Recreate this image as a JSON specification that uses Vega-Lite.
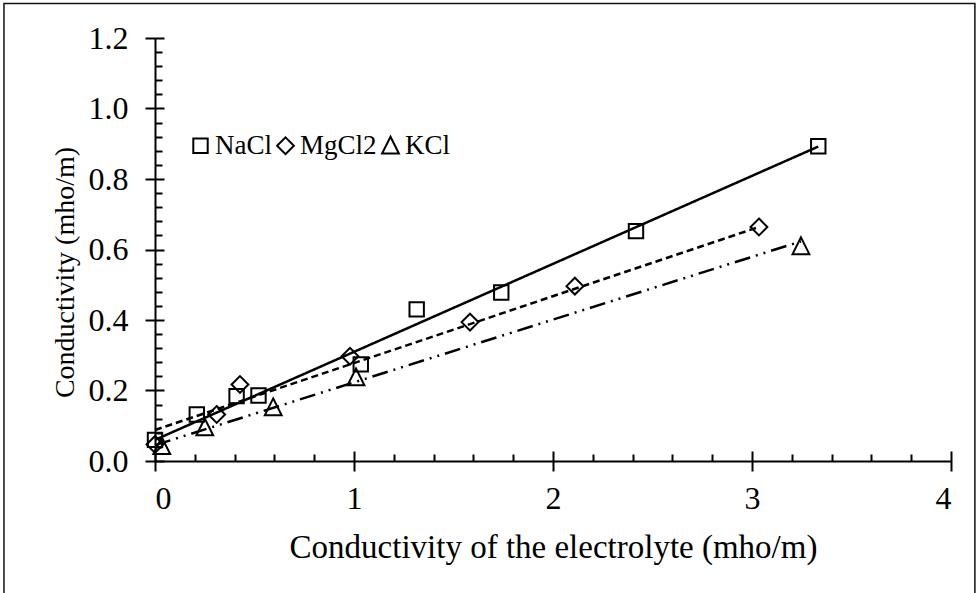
{
  "$schema": "https://vega.github.io/schema/vega-lite/v6.json",
  "width": 796,
  "height": 423,
  "autosize": {"type": "none"},
  "padding": {"left": 155, "top": 38, "right": 28, "bottom": 132},
  "background": "white",
  "config": {"view": {"stroke": null}, "font": "Liberation Serif"},
  "datasets": {
    "points": [
      {"series": "NaCl", "x": 0.0, "y": 0.06},
      {"series": "NaCl", "x": 0.21, "y": 0.132},
      {"series": "NaCl", "x": 0.41, "y": 0.184},
      {"series": "NaCl", "x": 0.52, "y": 0.186},
      {"series": "NaCl", "x": 1.034, "y": 0.274},
      {"series": "NaCl", "x": 1.315, "y": 0.43},
      {"series": "NaCl", "x": 1.74, "y": 0.478},
      {"series": "NaCl", "x": 2.417, "y": 0.652},
      {"series": "NaCl", "x": 3.333, "y": 0.893},
      {"series": "MgCl2", "x": 0.0, "y": 0.047},
      {"series": "MgCl2", "x": 0.31, "y": 0.132},
      {"series": "MgCl2", "x": 0.427, "y": 0.217},
      {"series": "MgCl2", "x": 0.98, "y": 0.297},
      {"series": "MgCl2", "x": 1.583, "y": 0.394},
      {"series": "MgCl2", "x": 2.11, "y": 0.496},
      {"series": "MgCl2", "x": 3.035, "y": 0.664},
      {"series": "KCl", "x": 0.034, "y": 0.042},
      {"series": "KCl", "x": 0.25, "y": 0.095},
      {"series": "KCl", "x": 0.594, "y": 0.152},
      {"series": "KCl", "x": 1.01, "y": 0.237},
      {"series": "KCl", "x": 3.246, "y": 0.609}
    ],
    "trends": [
      {"line": "NaCl trend", "x": 0.0, "y": 0.06},
      {"line": "NaCl trend", "x": 3.333, "y": 0.892},
      {"line": "MgCl2 trend", "x": 0.0, "y": 0.088},
      {"line": "MgCl2 trend", "x": 3.035, "y": 0.664},
      {"line": "KCl trend", "x": 0.0, "y": 0.045},
      {"line": "KCl trend", "x": 3.246, "y": 0.623}
    ],
    "frame": [{"x": -0.759, "x2": 4.12, "y": 1.298, "y2": -0.5}]
  },
  "resolve": {"axis": {"x": "independent", "y": "independent"}},
  "layer": [
    {
      "data": {"name": "frame"},
      "mark": {"type": "rect", "fill": null, "stroke": "#111", "strokeWidth": 1.5, "clip": false},
      "encoding": {
        "x": {"field": "x", "type": "quantitative", "scale": {"domain": [0, 4]}, "axis": null},
        "x2": {"field": "x2"},
        "y": {"field": "y", "type": "quantitative", "scale": {"domain": [0, 1.2]}, "axis": null},
        "y2": {"field": "y2"}
      }
    },
    {
      "data": {"name": "trends"},
      "mark": {"type": "line", "color": "black", "strokeWidth": 2.5},
      "encoding": {
        "x": {"field": "x", "type": "quantitative", "scale": {"domain": [0, 4], "nice": false, "zero": false},
          "axis": {"orient": "bottom", "values": [0,0.2,0.4,0.6,0.8,1,1.2,1.4,1.6,1.8,2,2.2,2.4,2.6,2.8,3,3.2,3.4,3.6,3.8,4],
            "labels": false, "domain": false, "grid": false, "title": null, "tickColor": "black", "tickWidth": 2,
            "tickSize": {"condition": {"test": "abs(datum.value - round(datum.value)) < 0.001", "value": -10}, "value": -7}}},
        "y": {"field": "y", "type": "quantitative", "scale": {"domain": [0, 1.2], "nice": false, "zero": false},
          "axis": {"orient": "left", "values": [0,0.04,0.08,0.12,0.16,0.2,0.24,0.28,0.32,0.36,0.4,0.44,0.48,0.52,0.56,0.6,0.64,0.68,0.72,0.76,0.8,0.84,0.88,0.92,0.96,1,1.04,1.08,1.12,1.16,1.2],
            "labels": false, "domain": false, "grid": false, "title": null, "tickColor": "black", "tickWidth": 2,
            "tickSize": {"condition": {"test": "abs(datum.value*5 - round(datum.value*5)) < 0.001", "value": -9}, "value": -7}}},
        "detail": {"field": "line"},
        "strokeDash": {"field": "line", "type": "nominal", "legend": null,
          "scale": {"domain": ["NaCl trend", "MgCl2 trend", "KCl trend"], "range": [[1, 0], [7, 4], [16, 6, 2, 6, 2, 6]]}}
      }
    },
    {
      "data": {"name": "points"},
      "mark": {"type": "point", "filled": false, "stroke": "black", "strokeWidth": 2, "size": 225, "opacity": 1},
      "encoding": {
        "x": {"field": "x", "type": "quantitative",
          "axis": {"orient": "bottom", "values": [0, 1, 2, 3, 4], "format": "d", "grid": false,
            "domainColor": "black", "domainWidth": 2, "tickColor": "black", "tickWidth": 2, "tickSize": 10,
            "labelFontSize": 32, "labelColor": "black", "labelPadding": 12, "labelFont": "Liberation Serif",
            "title": "Conductivity of the electrolyte (mho/m)", "titleFontSize": 33, "titleFontWeight": "normal",
            "titleColor": "black", "titleFont": "Liberation Serif", "titlePadding": 17}},
        "y": {"field": "y", "type": "quantitative",
          "axis": {"orient": "left", "values": [0, 0.2, 0.4, 0.6, 0.8, 1.0, 1.2], "format": ".1f", "grid": false,
            "domainColor": "black", "domainWidth": 2, "tickColor": "black", "tickWidth": 2, "tickSize": 10,
            "labelFontSize": 32, "labelColor": "black", "labelPadding": 17, "labelFont": "Liberation Serif",
            "title": "Conductivity (mho/m)", "titleFontSize": 28, "titleFontWeight": "normal",
            "titleColor": "black", "titleFont": "Liberation Serif", "titlePadding": 9, "titleY": 234}},
        "shape": {"field": "series", "type": "nominal",
          "scale": {"domain": ["NaCl", "MgCl2", "KCl"],
            "range": ["M-0.96,-0.96H0.96V0.96H-0.96Z", "M0,-1.12L1.12,0L0,1.12L-1.12,0Z", "M0,-1.2L1.12,1.04L-1.12,1.04Z"]},
          "legend": {"orient": "none", "legendX": 32, "legendY": 94, "direction": "horizontal", "title": null,
            "labelFontSize": 27, "labelFont": "Liberation Serif", "labelColor": "black", "labelOffset": 1,
            "columnPadding": -1, "symbolSize": 225, "symbolStrokeColor": "black", "symbolStrokeWidth": 2,
            "symbolFillColor": "white"}}
      }
    }
  ]
}
